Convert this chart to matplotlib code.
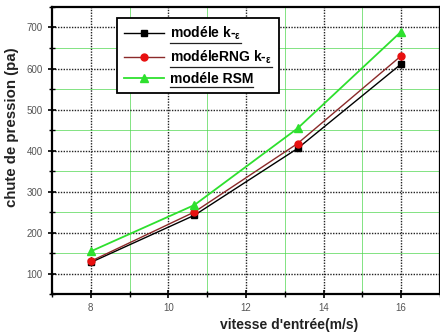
import matplotlib
matplotlib.use("Agg")
import matplotlib.pyplot as plt
from matplotlib.lines import Line2D
from matplotlib.ticker import MultipleLocator

plt.rcParams['font.family'] = ['Liberation Sans', 'DejaVu Sans']
plt.rcParams['mathtext.fontset'] = 'custom'
plt.rcParams['mathtext.rm'] = 'Liberation Sans:bold'
plt.rcParams['mathtext.it'] = 'Liberation Sans:bold'

# vitesse d'entrée (m/s) et chute de pression (Pa) pour chaque modèle
vitesse = [8, 10.67, 13.33, 16]
dp_k_eps = [127, 242, 405, 611]
dp_rng = [130, 250, 417, 631]
dp_rsm = [154, 267, 454, 690]

labels = [r'modéle k-$_{\epsilon}$', r'modéleRNG k-$_{\epsilon}$', 'modéle RSM']

fig = plt.figure(figsize=(4.4, 3.33), dpi=100)
ax = fig.add_axes([0.118, 0.117, 0.882, 0.862])

ax.plot(vitesse, dp_k_eps, '-s', color='black', mfc='black', mec='black',
        lw=1.0, ms=4.5, label=labels[0])
ax.plot(vitesse, dp_rng, '-o', color='#8b2a2a', mfc='#e81010', mec='#e81010',
        lw=1.0, ms=5, label=labels[1])
ax.plot(vitesse, dp_rsm, '-^', color='#2ee02e', mfc='#2ee02e', mec='#2ee02e',
        lw=1.3, ms=5.5, label=labels[2])

ax.set_xlim(7, 17)
ax.set_ylim(50, 750)
ax.xaxis.set_major_locator(MultipleLocator(2))
ax.xaxis.set_minor_locator(MultipleLocator(1))
ax.yaxis.set_major_locator(MultipleLocator(100))
ax.yaxis.set_minor_locator(MultipleLocator(50))
ax.set_yticks([100, 200, 300, 400, 500, 600, 700])

# grille : principale en pointillés noirs, secondaire verte ou grise
ax.grid(True, which='major', color='#222222', ls=(0, (1.0, 1.0)), lw=1.0)
ax.grid(True, which='minor', color='#4cd64c', ls='-', lw=0.7, alpha=0.7)
for t in ax.xaxis.get_minor_ticks():
    if abs(t.get_loc() - 13) < 1e-6:
        t.gridline.set_color('#aaaaaa')
        t.gridline.set_linestyle((0, (1.0, 1.0)))
for t in ax.yaxis.get_minor_ticks():
    if t.get_loc() in (250, 350):
        t.gridline.set_color('#aaaaaa')
        t.gridline.set_linestyle((0, (1.0, 1.0)))
ax.set_axisbelow(True)

for s in ax.spines.values():
    s.set_linewidth(1.6)
ax.tick_params(which='major', direction='inout', length=6, width=1.2,
               labelsize=7, labelcolor='#555555')
ax.tick_params(which='minor', direction='inout', length=4, width=1.0)

ax.set_xlabel("vitesse d'entrée(m/s)", fontsize=10, fontweight='bold',
              color='#222222')
ax.xaxis.set_label_coords(0.61, -0.085)
ax.set_ylabel('chute de pression (pa)', fontsize=10.8, fontweight='bold',
              color='#222222')
ax.yaxis.set_label_coords(-0.085, 0.58)

leg = ax.legend(loc='upper left', bbox_to_anchor=(0.167, 0.962),
                prop={'weight': 'bold', 'size': 10}, handlelength=2.9,
                fancybox=False, framealpha=1, edgecolor='black',
                labelspacing=0.45, borderpad=0.5, handletextpad=0.4,
                borderaxespad=0)
leg.get_frame().set_linewidth(1.3)

# soulignement des textes de la légende
fig.canvas.draw()
inv = fig.transFigure.inverted()
for txt in leg.get_texts():
    bb = txt.get_window_extent()
    (x0, y0), (x1, _) = inv.transform([(bb.x0, bb.y0 - 1), (bb.x1, bb.y0)])
    fig.add_artist(Line2D([x0, x1], [y0, y0], transform=fig.transFigure,
                          color='#222222', lw=0.9))

fig.savefig('out.png', dpi=100)
